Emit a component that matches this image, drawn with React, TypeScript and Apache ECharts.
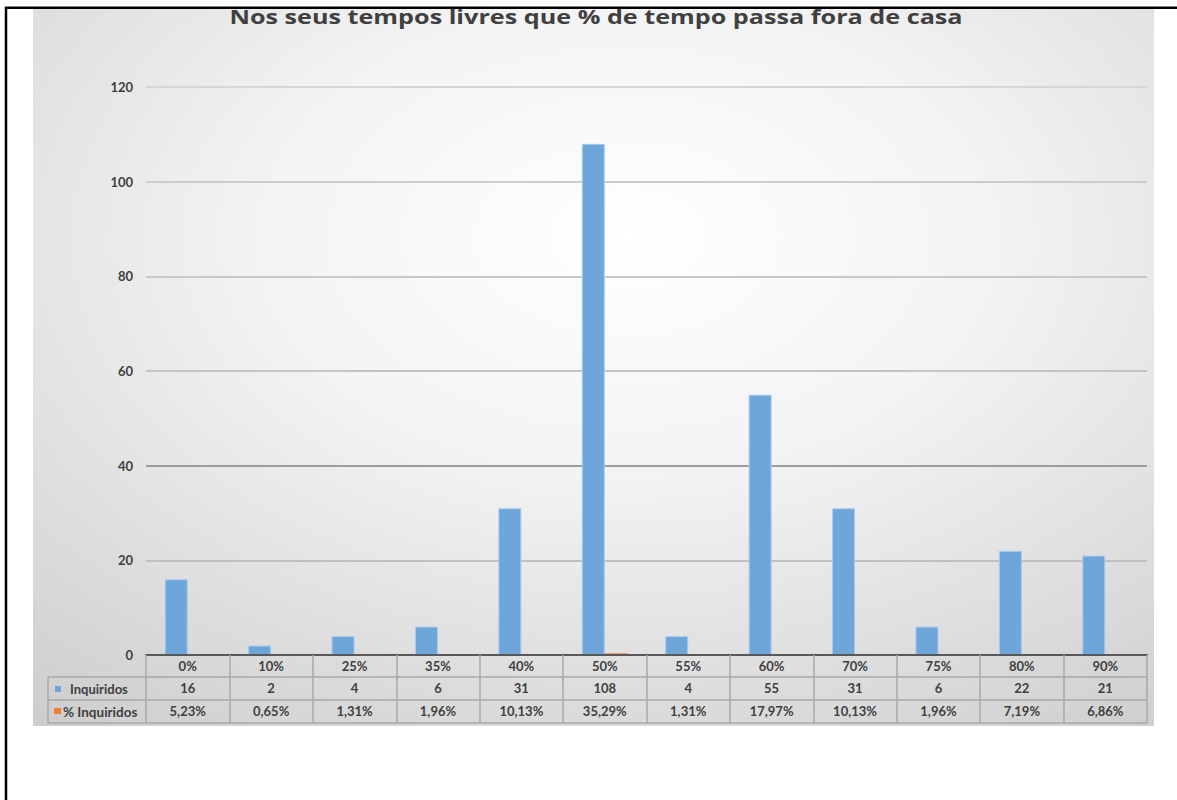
import React, { useEffect, useRef } from "react";
import * as echarts from "echarts";

const titleText = "Nos seus tempos livres que % de tempo passa fora de casa";
const categories = ["0%", "10%", "25%", "35%", "40%", "50%", "55%", "60%", "70%", "75%", "80%", "90%"];
const inquiridos = [16, 2, 4, 6, 31, 108, 4, 55, 31, 6, 22, 21];
const pctInquiridos = [0.0523, 0.0065, 0.0131, 0.0196, 0.1013, 0.3529, 0.0131, 0.1797, 0.1013, 0.0196, 0.0719, 0.0686];
const seriesNames = ["Inquiridos", "% Inquiridos"];
const seriesColors = ["#6fa6da", "#ed7d31"];

const FONT = "Lato";
const TXT = "#404040";
const TABLE_LINE = "#a8a8a8";

const fmtPct = (v: number) => (v * 100).toFixed(2).replace(".", ",") + "%";

export default function App() {
  const ref = useRef<HTMLDivElement>(null);
  useEffect(() => {
    if (!ref.current) return;
    const chart = echarts.init(ref.current, undefined, { renderer: "svg" });
    const tick = { show: true, interval: 0, length: 22, lineStyle: { color: TABLE_LINE, width: 1.5 } };
    const lbl = { color: TXT, fontFamily: FONT, fontWeight: "bold" as const, fontSize: 13, margin: 4, interval: 0 };
    chart.setOption({
      animation: false,
      grid: { left: 146, right: 30, top: 87, bottom: 145, containLabel: false },
      graphic: [
        {
          type: "rect",
          z: -100,
          shape: { x: 33, y: 9, width: 1121, height: 717 },
          style: {
            fill: new echarts.graphic.RadialGradient(0.53, 0.32, 0.95, [
              { offset: 0, color: "#ffffff" },
              { offset: 0.35, color: "#f3f3f3" },
              { offset: 1, color: "#c6c6c6" },
            ]),
          },
        },
        {
          type: "text",
          z: 60,
          x: 596,
          y: 17,
          scaleX: 1.26,
          style: {
            text: titleText,
            align: "center",
            verticalAlign: "middle",
            fontFamily: "Open Sans",
            fontWeight: "bold",
            fontSize: 20,
            fill: "#404040",
          },
        },
        { type: "line", z: 100, shape: { x1: 6, y1: 7, x2: 6, y2: 800 }, style: { stroke: "#000", lineWidth: 2.5 } },
        { type: "line", z: 100, shape: { x1: 5, y1: 7.7, x2: 1177, y2: 7.7 }, style: { stroke: "#000", lineWidth: 2.5 } },
        { type: "line", z: 50, shape: { x1: 48, y1: 677, x2: 48, y2: 723 }, style: { stroke: TABLE_LINE, lineWidth: 1.5 } },
        { type: "line", z: 50, shape: { x1: 48, y1: 677, x2: 146, y2: 677 }, style: { stroke: TABLE_LINE, lineWidth: 1.5 } },
        { type: "line", z: 50, shape: { x1: 48, y1: 700, x2: 146, y2: 700 }, style: { stroke: TABLE_LINE, lineWidth: 1.5 } },
        { type: "line", z: 50, shape: { x1: 48, y1: 723, x2: 146, y2: 723 }, style: { stroke: TABLE_LINE, lineWidth: 1.5 } },
        { type: "rect", z: 60, shape: { x: 55, y: 686, width: 6, height: 6 }, style: { fill: seriesColors[0] } },
        {
          type: "text",
          z: 60,
          x: 70,
          y: 689,
          style: { text: seriesNames[0], verticalAlign: "middle", fontFamily: FONT, fontWeight: "bold", fontSize: 13, fill: TXT },
        },
        { type: "rect", z: 60, shape: { x: 54, y: 708, width: 7, height: 6 }, style: { fill: seriesColors[1] } },
        {
          type: "text",
          z: 60,
          x: 63,
          y: 711.5,
          style: { text: seriesNames[1], verticalAlign: "middle", fontFamily: FONT, fontWeight: "bold", fontSize: 13.5, fill: TXT },
        },
      ],
      xAxis: [
        {
          type: "category",
          data: categories,
          position: "bottom",
          offset: 0,
          axisLine: { show: true, lineStyle: { color: "#595959", width: 2 } },
          axisTick: tick,
          axisLabel: lbl,
          z: 10,
        },
        {
          type: "category",
          data: inquiridos.map(String),
          position: "bottom",
          offset: 22,
          axisLine: { show: true, lineStyle: { color: TABLE_LINE, width: 1.5 } },
          axisTick: tick,
          axisLabel: lbl,
        },
        {
          type: "category",
          data: pctInquiridos.map(fmtPct),
          position: "bottom",
          offset: 45,
          axisLine: { show: true, lineStyle: { color: TABLE_LINE, width: 1.5 } },
          axisTick: { ...tick, length: 23 },
          axisLabel: lbl,
        },
        {
          type: "category",
          data: categories,
          position: "bottom",
          offset: 68,
          axisLine: { show: true, lineStyle: { color: TABLE_LINE, width: 1.5 } },
          axisTick: { show: false },
          axisLabel: { show: false },
        },
      ],
      yAxis: {
        type: "value",
        min: 0,
        max: 120,
        interval: 20,
        axisLine: { show: false },
        axisTick: { show: false },
        axisLabel: { color: TXT, fontFamily: FONT, fontWeight: "bold", fontSize: 13, margin: 13 },
        splitLine: {
          lineStyle: {
            color: ["#c8c8c8", "#c0c0c0", "#9c9c9c", "#c4c4c4", "#c8c8c8", "#cccccc", "#d6d6d6"],
            width: 2,
          },
        },
      },
      series: [
        {
          name: seriesNames[0],
          type: "bar",
          xAxisIndex: 0,
          data: inquiridos,
          barWidth: 23,
          barGap: "0%",
          itemStyle: { color: seriesColors[0], borderColor: "#a9cbec", borderWidth: 1 },
          z: 5,
        },
        {
          name: seriesNames[1],
          type: "bar",
          xAxisIndex: 0,
          data: pctInquiridos,
          barWidth: 23,
          barGap: "0%",
          itemStyle: { color: seriesColors[1] },
          z: 5,
        },
      ],
    });
    return () => chart.dispose();
  }, []);
  return (
    <div
      ref={ref}
      style={{ position: "fixed", left: 0, top: 0, width: 1177, height: 800, background: "#fff" }}
    />
  );
}
